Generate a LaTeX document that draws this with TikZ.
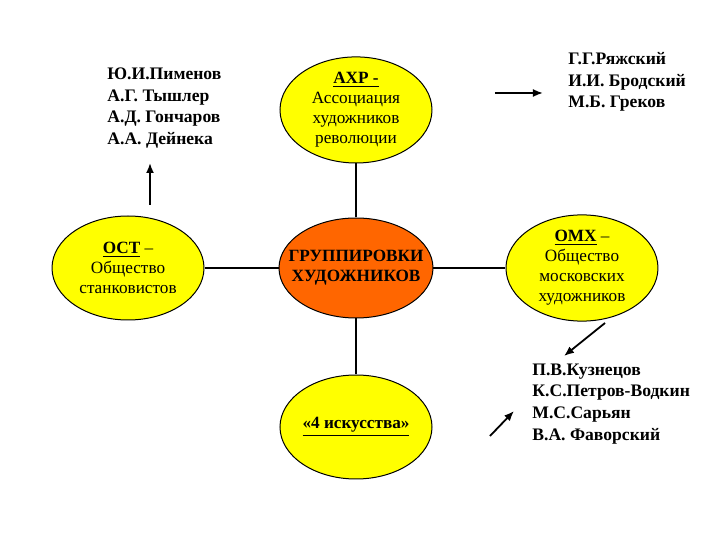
\documentclass[tikz,border=0pt]{standalone}
\usepackage{fontspec}
\setmainfont{Liberation Serif}
\usetikzlibrary{arrows.meta, positioning, shapes.geometric}
\definecolor{grpyellow}{RGB}{255,255,0}
\definecolor{grporange}{RGB}{255,102,0}

\begin{document}
\begin{tikzpicture}[x=0.5pt, y=-0.5pt, node distance=0mm,
  group/.style={ellipse, draw, line width=0.5pt, fill=grpyellow, minimum width=76pt,
    minimum height=52pt, inner sep=0pt, align=center, font=\fontsize{8.6}{10}\selectfont},
  names/.style={anchor=west, align=left, inner sep=0pt, font=\fontsize{8.8}{10.9}\selectfont\bfseries},
  link/.style={line width=1.2pt},
  pointer/.style={-{Latex[length=5pt,width=4pt]}, line width=0.9pt}]
  \useasboundingbox (0,0) rectangle (720,540);
  % groups
  \node[group, fill=grporange, minimum height=50pt, inner xsep=-6.5pt,
    font=\fontsize{8.6}{10}\selectfont\bfseries]
    (grp) at (356,268) {ГРУППИРОВКИ\\ХУДОЖНИКОВ};
  \node[group, above=27pt of grp] (axr) {\textbf{\underline{АХР -}}\\Ассоциация\\художников\\революции};
  \node[group, left=37pt of grp]  (ost) {\textbf{\underline{ОСТ}} –\\Общество\\станковистов};
  \node[group, right=36pt of grp] (omx) {\textbf{\underline{ОМХ}} –\\Общество\\московских\\художников};
  \node[group, below=28pt of grp] (four) {\textbf{\underline{«4 искусства»}}};
  \draw[link] (grp) -- (axr);
  \draw[link] (grp) -- (ost);
  \draw[link] (grp) -- (omx);
  \draw[link] (grp) -- (four);
  % artists
  \node[names] (ostnames) at (107,108) {Ю.И.Пименов\\А.Г. Тышлер\\А.Д. Гончаров\\А.А. Дейнека};
  \node[names] (axrnames) at (568,82) {Г.Г.Ряжский\\И.И. Бродский\\М.Б. Греков};
  \node[names] (omxnames) at (532,404) {П.В.Кузнецов\\К.С.Петров-Водкин\\М.С.Сарьян\\В.А. Фаворский};
  \coordinate (p1) at (150,205);
  \coordinate (p1e) at (150,163);
  \coordinate (p2) at (495,93);
  \coordinate (p2e) at (543,93);
  \coordinate (p3) at (605,323);
  \coordinate (p3e) at (564,356);
  \coordinate (p4) at (490,436);
  \coordinate (p4e) at (514,411);
  \draw[pointer] (p1) -- (p1e);
  \draw[pointer] (p2) -- (p2e);
  \draw[pointer] (p3) -- (p3e);
  \draw[pointer] (p4) -- (p4e);
\end{tikzpicture}
\end{document}
